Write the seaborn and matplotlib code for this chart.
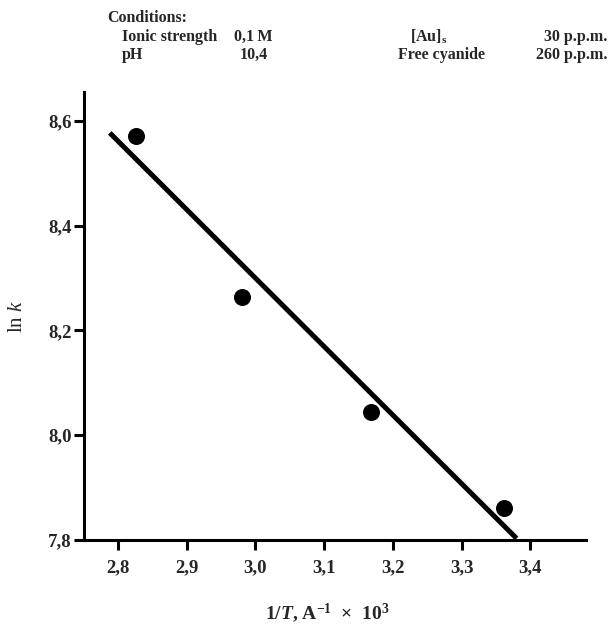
import matplotlib
matplotlib.use("Agg")
import matplotlib.pyplot as plt
import seaborn as sns
import pandas as pd

# data
inv_T = [2.826, 2.980, 3.168, 3.362]
ln_k = [8.571, 8.264, 8.045, 7.861]
fit_x = [2.788, 3.380]
fit_y = [8.577, 7.803]
xticks = [2.8, 2.9, 3.0, 3.1, 3.2, 3.3, 3.4]
xtick_labels = ["2,8", "2,9", "3,0", "3,1", "3,2", "3,3", "3,4"]
yticks = [7.8, 8.0, 8.2, 8.4, 8.6]
ytick_labels = ["7,8", "8,0", "8,2", "8,4", "8,6"]

sns.set_style("ticks")
plt.rcParams["font.family"] = ["Liberation Serif", "DejaVu Serif"]
plt.rcParams["mathtext.fontset"] = "custom"
plt.rcParams["mathtext.rm"] = "Liberation Serif:bold"
plt.rcParams["mathtext.it"] = "Liberation Serif:italic"
plt.rcParams["mathtext.bf"] = "Liberation Serif:bold"
plt.rcParams["mathtext.bfit"] = "Liberation Serif:italic:bold"

fig = plt.figure(figsize=(6.13, 6.25), dpi=100)
ax = fig.add_axes([84 / 613, 1 - 540 / 625, (586 - 84) / 613, (540 - 92) / 625])

pts = pd.DataFrame({"x": inv_T, "y": ln_k})
fit = pd.DataFrame({"x": fit_x, "y": fit_y})
sns.lineplot(data=fit, x="x", y="y", ax=ax, color="black", linewidth=3.6,
             solid_capstyle="butt")
sns.scatterplot(data=pts, x="x", y="y", ax=ax, color="black", s=150,
                edgecolor="black", linewidth=0, zorder=5)

ax.set_xlim(2.7505, 3.481)
ax.set_ylim(7.8, 8.655)
ax.set_xticks(xticks)
ax.set_xticklabels(xtick_labels, fontweight="bold", fontsize=13.5)
ax.set_yticks(yticks)
ax.set_yticklabels(ytick_labels, fontweight="bold", fontsize=13.5)
ax.tick_params(axis="both", direction="out", length=7, width=2.2, color="black")
ax.tick_params(axis="x", pad=7)
ax.tick_params(axis="y", pad=2)
for s in ["top", "right"]:
    ax.spines[s].set_visible(False)
for s in ["left", "bottom"]:
    ax.spines[s].set_linewidth(2.2)
    ax.spines[s].set_color("black")

ax.set_xlabel("")
ax.set_ylabel("")
fig.text(327 / 613, 1 - 613 / 625,
         r"1/$\mathbfit{T}$, A$^{-1}$  $\times$  10$^{3}$",
         ha="center", va="center", fontsize=14, fontweight="bold")
fig.text(18 / 613, 1 - 316 / 625, r"ln $\mathit{k}$", rotation=90,
         ha="center", va="center", fontsize=15, fontweight="normal")

# conditions block
fs = 11.5
fig.text(107 / 613, 1 - 18 / 625, "Conditions:", fontsize=fs, fontweight="bold",
         va="center", ha="left")
fig.text(122 / 613, 1 - 37 / 625, "Ionic strength", fontsize=fs, fontweight="bold",
         va="center", ha="left")
fig.text(234 / 613, 1 - 37 / 625, "0,1\u2009M", fontsize=fs, fontweight="bold",
         va="center", ha="left")
fig.text(122 / 613, 1 - 55 / 625, "pH", fontsize=fs, fontweight="bold",
         va="center", ha="left")
fig.text(240 / 613, 1 - 55 / 625, "10,4", fontsize=fs, fontweight="bold",
         va="center", ha="left")
fig.text(429 / 613, 1 - 37 / 625, r"[Au]$_\mathrm{s}$", fontsize=fs,
         fontweight="bold", va="center", ha="center")
fig.text(607 / 613, 1 - 37 / 625, "30 p.p.m.", fontsize=fs, fontweight="bold",
         va="center", ha="right")
fig.text(398 / 613, 1 - 55 / 625, "Free cyanide", fontsize=fs, fontweight="bold",
         va="center", ha="left")
fig.text(607 / 613, 1 - 55 / 625, "260 p.p.m.", fontsize=fs, fontweight="bold",
         va="center", ha="right")

fig.savefig("out.png", dpi=100)
